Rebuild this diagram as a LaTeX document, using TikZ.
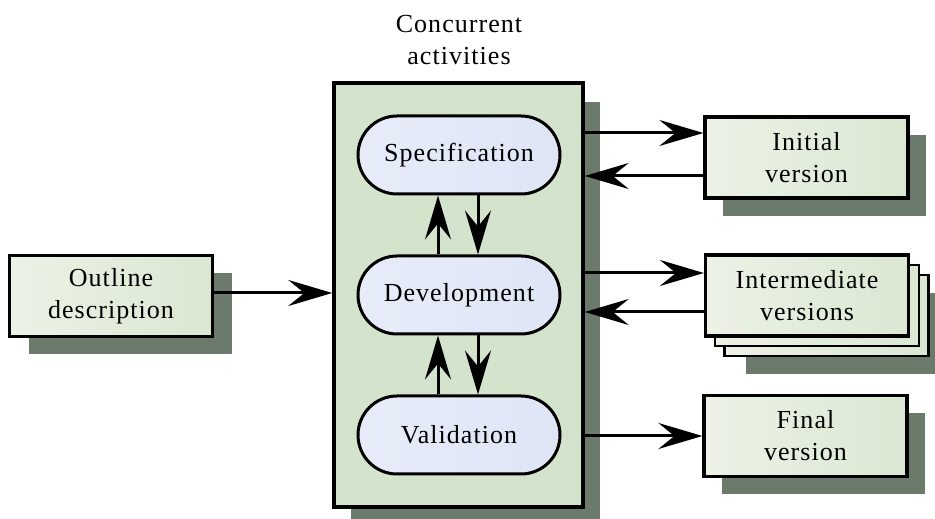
\documentclass[tikz,border=0pt]{standalone}
\usepackage{fontspec}
\setmainfont{Liberation Serif}[LetterSpace=4]
\usetikzlibrary{arrows.meta,shapes.misc,shadows}
\definecolor{shadowc}{RGB}{108,122,108}
\definecolor{mainc}{RGB}{212,227,204}
\definecolor{boxl}{RGB}{236,242,230}
\definecolor{boxr}{RGB}{218,231,210}
\definecolor{elll}{RGB}{232,236,249}
\definecolor{ellr}{RGB}{222,229,245}
\tikzset{
  txt/.style={font=\fontsize{26}{32}\selectfont, align=center},
  docbox/.style={txt, draw=black, line width=3.2pt, minimum width=203pt, minimum height=81pt,
    inner sep=0pt, left color=boxl, right color=boxr},
  backbox/.style={draw=black, line width=2.6pt, minimum width=204pt, minimum height=81pt,
    inner sep=0pt, left color=boxl, right color=boxr},
  shad/.style={drop shadow={shadow xshift=#1, shadow yshift=-18pt, fill=shadowc, opacity=1}},
  actbox/.style={txt, rounded rectangle, draw=black, line width=3pt, minimum width=202pt,
    minimum height=78pt, inner sep=0pt, left color=elll, right color=ellr},
  arr/.style={line width=3pt, -{Stealth[length=44pt,width=26pt,inset=16pt]}},
}
\begin{document}
\begin{tikzpicture}[x=1pt,y=1pt]
\useasboundingbox (0,0) rectangle (935,519);
% title
\node[txt] (title) at (459,479) {Concurrent\\activities};
% main box
\node[draw=black, line width=3.4pt, fill=mainc, minimum width=249pt, minimum height=424pt,
  inner sep=0pt, drop shadow={shadow xshift=17pt, shadow yshift=-19pt, fill=shadowc, opacity=1}]
  (main) at (458.5,224) {};
% activities
\node[actbox] (spec) at (459,364) {Specification};
\node[actbox] (dev) at (459,224) {Development};
\node[actbox] (val) at (459,84) {Validation};
% outline
\node[docbox, shad=19pt] (outline) at (111,223) {Outline\\description};
% outputs
\node[docbox, shad=18pt] (init) at (806.5,361.5) {Initial\\version};
\node[backbox, shad=21pt] (inter3) at (826.5,203.5) {};
\node[backbox] (inter2) at (817,213.5) {};
\node[docbox] (inter) at (807,223.5) {Intermediate\\versions};
\node[docbox, shad=18pt] (final) at (805.5,83) {Final\\version};
% connectors
\draw[arr] (outline.east |- 0,226) -- (main.west |- 0,226);
\draw[arr] (main.east |- 0,386) -- (init.west |- 0,386);
\draw[arr] (init.west |- 0,343) -- (main.east |- 0,343);
\draw[arr] (main.east |- 0,246) -- (inter.west |- 0,246);
\draw[arr] (inter.west |- 0,207) -- (main.east |- 0,207);
\draw[arr] (main.east |- final.west) -- (final.west);
\draw[arr] (dev.north -| 438,0) -- (spec.south -| 438,0);
\draw[arr] (spec.south -| 478,0) -- (dev.north -| 478,0);
\draw[arr] (val.north -| 438,0) -- (dev.south -| 438,0);
\draw[arr] (dev.south -| 478,0) -- (val.north -| 478,0);
\end{tikzpicture}
\end{document}
